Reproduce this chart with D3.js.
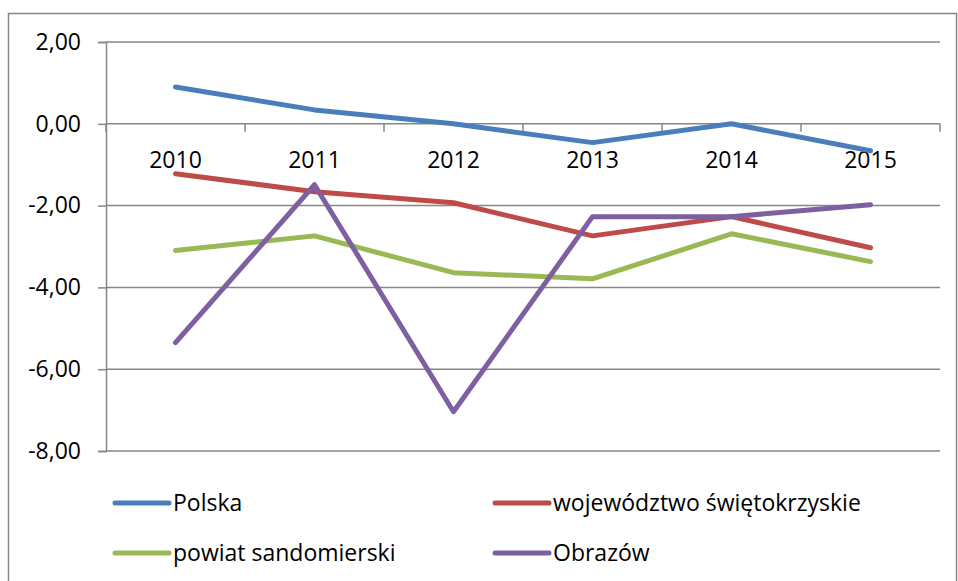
<!DOCTYPE html>
<html>
<head>
<meta charset="utf-8">
<script src="https://cdn.jsdelivr.net/npm/d3@7"></script>
<style>
  body { margin: 0; background: #fff; }
  text { font-family: "Open Sans", "Liberation Sans", sans-serif; fill: #000; }
</style>
</head>
<body>
<div id="chart"></div>
<script>
var years = ["2010", "2011", "2012", "2013", "2014", "2015"];
var polska = [0.90, 0.34, 0.00, -0.46, 0.00, -0.66];
var wojewodztwo = [-1.22, -1.66, -1.93, -2.74, -2.27, -3.03];
var powiat = [-3.10, -2.74, -3.64, -3.79, -2.69, -3.37];
var obrazow = [-5.35, -1.49, -7.04, -2.27, -2.27, -1.98];
var yTicks = [2, 0, -2, -4, -6, -8];

var series = [
  { name: "Polska", values: polska, color: "#4a7ebb" },
  { name: "województwo świętokrzyskie", values: wojewodztwo, color: "#be4b48" },
  { name: "powiat sandomierski", values: powiat, color: "#98b954" },
  { name: "Obrazów", values: obrazow, color: "#7d60a0" }
];

var svgWidth = 958, svgHeight = 581;
var plot = { left: 106, right: 940, top: 42, bottom: 451 };
var fontSize = 23;

var svg = d3.select("#chart").append("svg")
  .attr("width", svgWidth)
  .attr("height", svgHeight);

// outer frame
svg.append("rect")
  .attr("x", 8.5).attr("y", 13.5)
  .attr("width", 948).attr("height", 570)
  .attr("fill", "none")
  .attr("stroke", "#868686")
  .attr("stroke-width", 1.5);

var x = d3.scaleBand().domain(years).range([plot.left, plot.right]);
var y = d3.scaleLinear().domain([-8, 2]).range([plot.bottom, plot.top]);
// comma decimals, plain hyphen for minus
var fmt = function(d) { return d.toFixed(2).replace(".", ","); };

// y axis
var yAxis = d3.axisLeft(y).tickValues(yTicks).tickFormat(fmt).tickSize(8);
var gy = svg.append("g").attr("transform", "translate(" + plot.left + ",0)").call(yAxis);
gy.select(".domain").attr("stroke", "#868686").attr("stroke-width", 1.5);
gy.selectAll(".tick line").attr("stroke", "#868686").attr("stroke-width", 1.5);
gy.selectAll(".tick text")
  .attr("font-size", fontSize)
  .attr("font-family", "Open Sans, sans-serif")
  .attr("x", -25);

// gridlines
svg.append("g").selectAll("line")
  .data(yTicks)
  .enter().append("line")
  .attr("x1", plot.left).attr("x2", plot.right)
  .attr("y1", function(d) { return y(d); })
  .attr("y2", function(d) { return y(d); })
  .attr("stroke", "#868686")
  .attr("stroke-width", 1.5);

// x axis on zero line
var gx = svg.append("g").attr("transform", "translate(0," + y(0) + ")");
gx.selectAll("line")
  .data(years.concat(["end"]))
  .enter().append("line")
  .attr("x1", function(d, i) { return plot.left + i * x.bandwidth(); })
  .attr("x2", function(d, i) { return plot.left + i * x.bandwidth(); })
  .attr("y1", 0).attr("y2", 8)
  .attr("stroke", "#868686")
  .attr("stroke-width", 1.5);
gx.selectAll("text")
  .data(years)
  .enter().append("text")
  .attr("x", function(d) { return x(d) + x.bandwidth() / 2; })
  .attr("y", 44)
  .attr("text-anchor", "middle")
  .attr("font-size", fontSize)
  .text(function(d) { return d; });

// lines
var line = d3.line()
  .x(function(d, i) { return x(years[i]) + x.bandwidth() / 2; })
  .y(function(d) { return y(d); });

svg.append("g").selectAll("path")
  .data(series)
  .enter().append("path")
  .attr("d", function(d) { return line(d.values); })
  .attr("fill", "none")
  .attr("stroke", function(d) { return d.color; })
  .attr("stroke-width", 5)
  .attr("stroke-linejoin", "round")
  .attr("stroke-linecap", "round");

// legend
var legendPos = [[115, 503], [495, 503], [115, 553], [495, 553]];
var legend = svg.append("g").selectAll("g")
  .data(series)
  .enter().append("g")
  .attr("transform", function(d, i) { return "translate(" + legendPos[i][0] + "," + legendPos[i][1] + ")"; });
legend.append("line")
  .attr("x1", 0).attr("x2", 54)
  .attr("stroke", function(d) { return d.color; })
  .attr("stroke-width", 5)
  .attr("stroke-linecap", "round");
legend.append("text")
  .attr("x", 58)
  .attr("dy", "0.35em")
  .attr("font-size", fontSize)
  .text(function(d) { return d.name; });
</script>
</body>
</html>
